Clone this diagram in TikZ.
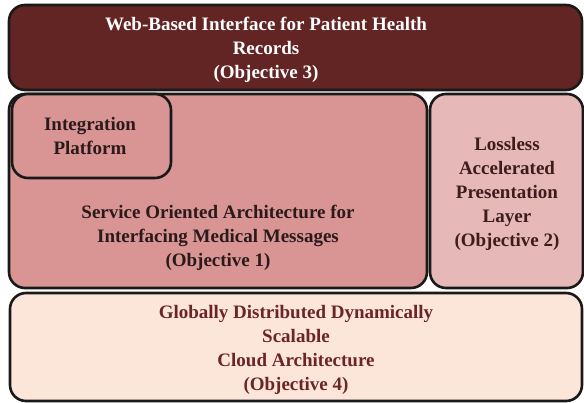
\documentclass[tikz,border=0pt]{standalone}
\usepackage{fontspec}
\setmainfont{Liberation Serif}
\definecolor{topfill}{HTML}{632424}
\definecolor{soafill}{HTML}{D99494}
\definecolor{rightfill}{HTML}{E6B8B8}
\definecolor{botfill}{HTML}{FCE6DA}
\definecolor{darktext}{HTML}{2B1A1A}
\definecolor{righttext}{HTML}{3F1C1C}
\definecolor{bottext}{HTML}{6B2525}
\tikzset{
  blk/.style={draw=black!90, line width=2.6pt, rounded corners=16pt},
  lbl/.style={align=center, font=\bfseries\fontsize{19}{24}\selectfont, inner sep=0pt}
}
\begin{document}
\begin{tikzpicture}[x=1pt,y=-1pt]
\useasboundingbox (0,0) rectangle (584,403);
% top
\draw[blk, fill=topfill] (9,5) rectangle (582,90);
\node[lbl, text=white] (top) at (266,50) {Web-Based Interface for Patient Health\\Records\\(Objective 3)};
% SOA
\draw[blk, fill=soafill] (9,94) rectangle (427,288);
\node[lbl, text=darktext] (soa) at (218,238) {Service Oriented Architecture for\\Interfacing Medical Messages\\(Objective 1)};
% integration
\draw[blk, fill=soafill] (12,94) rectangle (171,178);
\node[lbl, text=darktext] (integ) at (90,136) {Integration\\Platform};
% right
\draw[blk, fill=rightfill] (430,94) rectangle (583,288);
\node[lbl, text=righttext] (lossless) at (507,194) {Lossless\\Accelerated\\Presentation\\Layer\\(Objective 2)};
% bottom
\draw[blk, fill=botfill] (10,293) rectangle (582,401);
\node[lbl, text=bottext] (cloud) at (296,350) {Globally Distributed Dynamically\\Scalable\\Cloud Architecture\\(Objective 4)};
\end{tikzpicture}
\end{document}
